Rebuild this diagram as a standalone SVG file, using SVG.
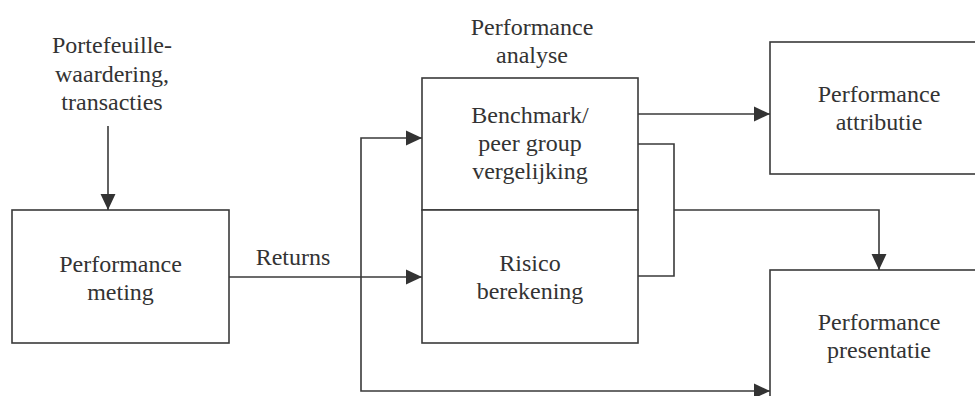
<svg xmlns="http://www.w3.org/2000/svg" width="975" height="396" viewBox="0 0 975 396">
<style>
.box{fill:#ffffff;stroke:#3a3a3a;stroke-width:1.6}
.ln{fill:none;stroke:#3a3a3a;stroke-width:1.6}
.t{font-family:"Liberation Serif","Times New Roman",serif;font-size:24px;fill:#333333;text-anchor:middle}
</style>
<defs>
<marker id="ah" markerUnits="userSpaceOnUse" markerWidth="16" markerHeight="16" viewBox="0 0 15 14" refX="15" refY="7" orient="auto">
<path d="M0,0 L15,7 L0,14 Z" fill="#333333"/>
</marker>
</defs>
<rect width="975" height="396" fill="#ffffff"/>
<g id="input-label">
<text class="t" x="112" y="53">Portefeuille-</text>
<text class="t" x="112" y="82">waardering,</text>
<text class="t" x="112" y="110">transacties</text>
</g>
<g id="performance-meting">
<rect class="box" x="12" y="210" width="217" height="133"/>
<text class="t" x="120.5" y="272">Performance</text>
<text class="t" x="120.5" y="300">meting</text>
</g>
<g id="performance-analyse">
<text class="t" x="532" y="35">Performance</text>
<text class="t" x="532" y="63">analyse</text>
</g>
<g id="benchmark">
<rect class="box" x="422" y="78" width="216" height="132"/>
<text class="t" x="530" y="123">Benchmark/</text>
<text class="t" x="530" y="151">peer group</text>
<text class="t" x="530" y="179">vergelijking</text>
</g>
<g id="risico">
<rect class="box" x="422" y="210" width="216" height="133"/>
<text class="t" x="530" y="271">Risico</text>
<text class="t" x="530" y="299">berekening</text>
</g>
<g id="performance-attributie">
<rect class="box" x="770" y="42" width="218" height="132"/>
<text class="t" x="879" y="102">Performance</text>
<text class="t" x="879" y="130">attributie</text>
</g>
<g id="performance-presentatie">
<rect class="box" x="770" y="270" width="218" height="140"/>
<text class="t" x="879" y="330">Performance</text>
<text class="t" x="879" y="358">presentatie</text>
</g>
<g id="connectors">
<path class="ln" d="M108,126 V210" marker-end="url(#ah)"/>
<path class="ln" d="M229,277 H422" marker-end="url(#ah)"/>
<text class="t" x="293" y="265">Returns</text>
<path class="ln" d="M361,277 V138 H422" marker-end="url(#ah)"/>
<path class="ln" d="M361,277 V391 H770" marker-end="url(#ah)"/>
<path class="ln" d="M638,114 H770" marker-end="url(#ah)"/>
<path class="ln" d="M638,144 H674 V276 H638"/>
<path class="ln" d="M674,210 H879 V270" marker-end="url(#ah)"/>
</g>
</svg>
